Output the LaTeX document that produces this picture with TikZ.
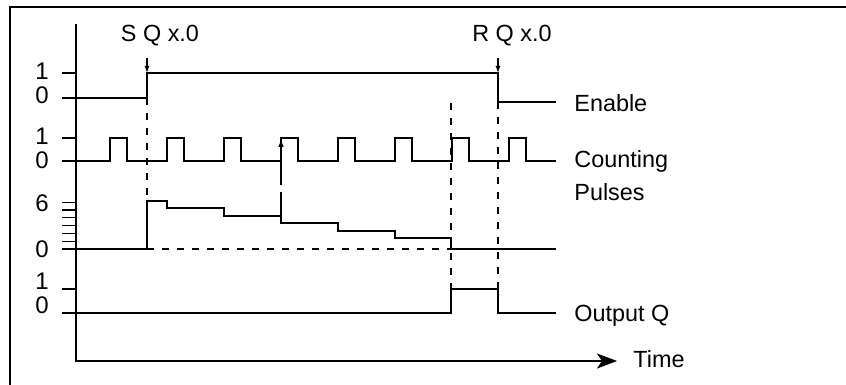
\documentclass[tikz,border=0pt]{standalone}
\usepackage{fontspec}
\setmainfont{Liberation Sans}
\usetikzlibrary{arrows.meta,positioning}

\tikzset{
  sig/.style={line width=0.6pt, line join=miter},
  guide/.style={line width=0.6pt, dash pattern=on 3.5pt off 4pt},
  lvl/.style={font=\fontsize{12}{14}\selectfont, anchor=base, inner sep=0pt},
  lbl/.style={font=\fontsize{11.7}{14}\selectfont, anchor=base west, inner sep=0pt},
}

\begin{document}
\begin{tikzpicture}[x=0.5pt, y=-0.5pt]
\useasboundingbox (0,0) rectangle (846,385);
% frame
\draw[line width=0.75pt] (10,385) -- (10,7) -- (846,7);
% axes
\coordinate (ytop) at (76,24);
\coordinate (orig) at (76,361);
\coordinate (tend) at (617,361);
\draw[sig, -{Stealth[length=10pt, width=7.5pt, inset=2.5pt]}] (ytop) -- (orig) -- (tend);
\node[lbl] (timelbl) at (633,367) {Time};

% enable
\draw[sig] (62,73) -- (76,73);
\draw[sig] (62,98) -- (147,98) -- (147,73) -- (498,73) -- (498,102) -- (556,102);
\node[lvl] (en1) at (42,80) {1};
\node[lvl] (en0) at (42,104) {0};
\node[lbl] (enlbl) at (574,112) {Enable};
\node[lbl, anchor=base] (setlbl) at (160,42) {S Q x.0};
\node[lbl, anchor=base] (rstlbl) at (512,42) {R Q x.0};
\draw[sig, -{Latex[length=3.5pt, width=2.5pt]}] (147,58) -- (147,73);
\draw[sig, -{Latex[length=3.5pt, width=2.5pt]}] (498,58) -- (498,73);

% counting pulses
\draw[sig] (62,138) -- (76,138);
\draw[sig] (62,161) foreach \p in {110,167,...,509} {
  -- (\p,161) -- (\p,138) -- (\p+17,138) -- (\p+17,161) } -- (556,161);
\node[lvl] (cp1) at (42,145) {1};
\node[lvl] (cp0) at (42,169) {0};
\node[lbl] (cntlbl) at (574,168) {Counting};
\node[lbl] (plslbl) at (574,200) {Pulses};

% counter value
\foreach \k in {0,...,6}
  \draw[sig] (62,249-7.8*\k) -- (76,249-7.8*\k);
\draw[sig] (62,249) -- (147,249) -- (147,201) -- (167,201) -- (167,208)
  -- (224,208) -- (224,216) -- (281,216) -- (281,223) -- (338,223)
  -- (338,231) -- (395,231) -- (395,238) -- (451,238) -- (451,249) -- (556,249);
\draw[guide] (147,249) -- (451,249);
\node[lvl] (cv6) at (42,212) {6};
\node[lvl] (cv0) at (42,257) {0};
\draw[sig] (281,223) -- (281,192);
\draw[sig, -{Latex[length=4pt, width=2.8pt]}] (281,185) -- (281,139);

% output Q
\draw[sig] (62,289) -- (76,289);
\draw[sig] (62,313) -- (451,313) -- (451,289) -- (498,289) -- (498,313) -- (556,313);
\node[lvl] (oq1) at (42,289) {1};
\node[lvl] (oq0) at (42,313) {0};
\node[lbl] (outlbl) at (574,321) {Output Q};

% guide lines
\draw[guide] (147,98) -- (147,201);
\draw[guide] (451,103) -- (451,289);
\draw[guide] (498,102) -- (498,289);
\end{tikzpicture}
\end{document}
